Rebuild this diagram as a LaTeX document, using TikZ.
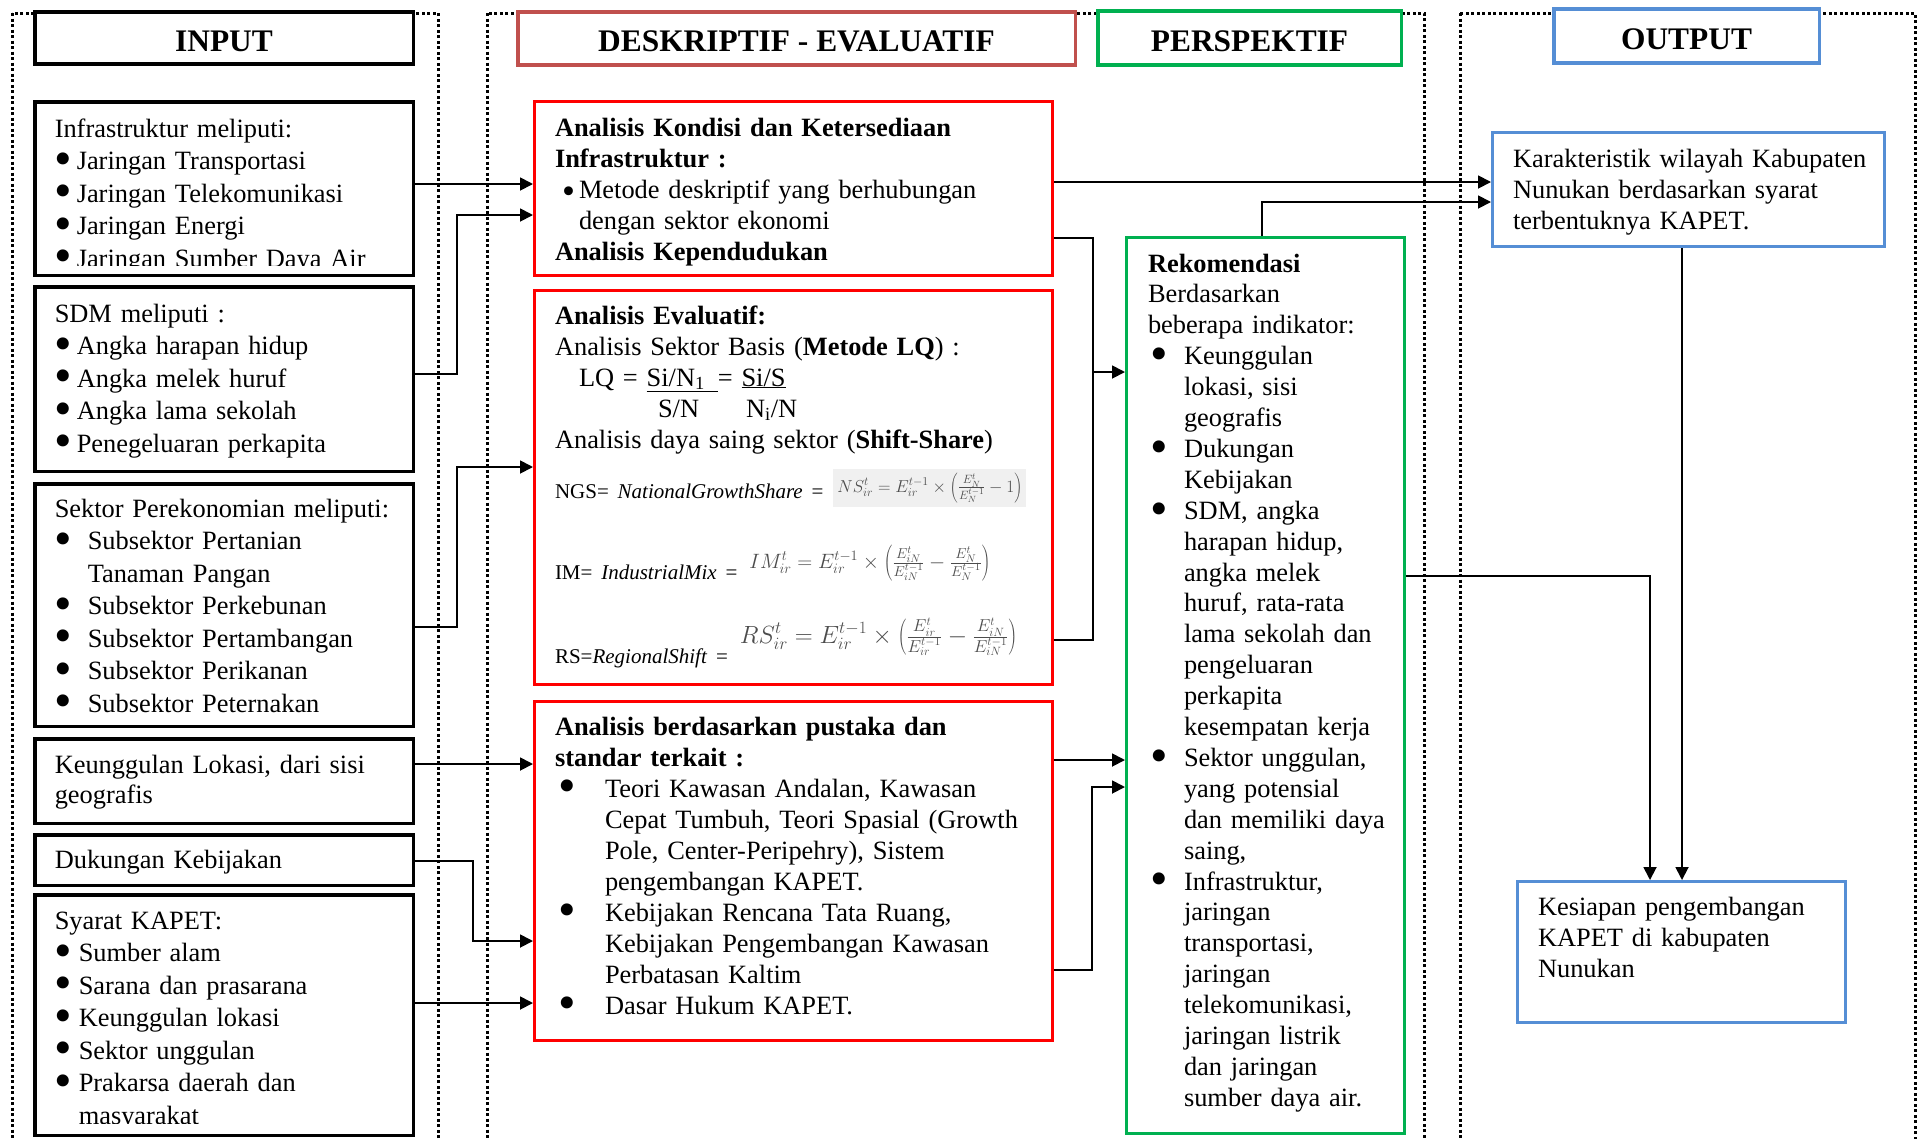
\documentclass[tikz,border=0pt]{standalone}
\usepackage{fontspec}
\usepackage{graphicx}
\setmainfont{Liberation Serif}
\usetikzlibrary{arrows.meta,positioning}
\definecolor{boxred}{RGB}{255,0,0}
\definecolor{headred}{RGB}{192,80,77}
\definecolor{boxgreen}{RGB}{0,176,80}
\definecolor{boxblue}{RGB}{85,142,213}
\newcommand{\bulscale}{1.9}
\newcommand{\bul}[3][0pt]{\par\hangindent=#2\relax\hangafter=1\relax\noindent\makebox[#2][l]{\hspace*{#1}\raisebox{-0.22em}{\scalebox{\bulscale}{\textbullet}}}#3}
\tikzset{
  colframe/.style={line width=3pt, dash pattern=on 3pt off 2.5pt},
  head/.style={draw, fill=white, line width=3.5pt, anchor=north west, inner sep=0pt, font=\fontsize{31.4}{36}\selectfont\bfseries, text height=40pt, text depth=13pt},
  box/.style={draw, anchor=north west, inner sep=0pt, align=left},
  inbox/.style={box, line width=3.5pt, text width=378.5pt, font=\fontsize{26.4}{32.5}\selectfont, execute at begin node={\leftskip=20pt}},
  redbox/.style={box, draw=boxred, line width=3pt, text width=518pt, font=\fontsize{26.4}{31}\selectfont, execute at begin node={\leftskip=20.5pt}},
  greenbox/.style={box, draw=boxgreen, line width=3pt, font=\fontsize{26.4}{30.9}\selectfont, execute at begin node={\leftskip=21.5pt}},
  bluebox/.style={box, draw=boxblue, line width=3pt, font=\fontsize{26.4}{31}\selectfont, execute at begin node={\leftskip=20.5pt}},
  conn/.style={line width=1.8pt},
  flow/.style={conn, -{Triangle[length=13pt,width=13pt]}}
}
\begin{document}
\begin{tikzpicture}[x=1pt,y=-1pt]
\useasboundingbox (0,0) rectangle (1919,1138);
\draw[colframe] (12,13) rectangle (438,1160);
\draw[colframe] (487,13) rectangle (1424,1160);
\draw[colframe] (1460,13) rectangle (1915,1160);

\node[head, minimum width=378.5pt, text depth=12pt] (H1) at (33,10) {INPUT};
\node[head, draw=headred, minimum width=557.5pt] (H2) at (516,10) {DESKRIPTIF - EVALUATIF};
\node[head, draw=boxgreen, minimum width=303.5pt, text height=41pt] (H3) at (1096,9) {PERSPEKTIF};
\node[head, draw=boxblue, minimum width=265.5pt, text height=41pt] (H4) at (1552,7) {OUTPUT};

\begin{scope}
\clip (20,90) rectangle (430,265);
\node[inbox, text height=35.25pt, text depth=138.25pt] (I1) at (33,100) {Infrastruktur meliputi:\bul{22pt}{Jaringan Transportasi}\bul{22pt}{Jaringan Telekomunikasi}\bul{22pt}{Jaringan Energi}\bul{22pt}{Jaringan Sumber Daya Air}\par};
\end{scope}
\draw[line width=3.5pt] ([shift={(1.75pt,-1.75pt)}]I1.north west) rectangle ([shift={(-1.75pt,1.75pt)}]I1.south east);
\node[inbox, below=8pt of I1.south west, anchor=north west, text height=35.25pt, text depth=149.25pt] (I2) {SDM meliputi :\bul{22pt}{Angka harapan hidup}\bul{22pt}{Angka melek huruf}\bul{22pt}{Angka lama sekolah}\bul{22pt}{Penegeluaran perkapita}\par};
\node[inbox, below=9pt of I2.south west, anchor=north west, text height=33.25pt, text depth=209.25pt] (I3) {Sektor Perekonomian meliputi:\bul{33pt}{Subsektor Pertanian\newline Tanaman Pangan}\bul{33pt}{Subsektor Perkebunan}\bul{33pt}{Subsektor Pertambangan}\bul{33pt}{Subsektor Perikanan}\bul{33pt}{Subsektor Peternakan}\par};
\node[inbox, font=\fontsize{26.4}{30}\selectfont, below=9pt of I3.south west, anchor=north west, text height=34.25pt, text depth=50.25pt] (I4) {Keunggulan Lokasi, dari sisi\\geografis};
\node[inbox, below=8pt of I4.south west, anchor=north west, text height=33.25pt, text depth=17.25pt] (I5) {Dukungan Kebijakan};
\begin{scope}
\clip (20,880) rectangle (430,1123);
\node[inbox, below=6pt of I5.south west, anchor=north west, text height=34.25pt, text depth=206.25pt] (I6) {Syarat KAPET:\bul{24pt}{Sumber alam}\bul{24pt}{Sarana dan prasarana}\bul{24pt}{Keunggulan lokasi}\bul{24pt}{Sektor unggulan}\bul{24pt}{Prakarsa daerah dan\newline masyarakat}\par};
\end{scope}
\draw[line width=3.5pt] ([shift={(1.75pt,-1.75pt)}]I6.north west) rectangle ([shift={(-1.75pt,1.75pt)}]I6.south east);

\node[redbox, text height=34.5pt, text depth=139.5pt] (A1) at (533,100) {\renewcommand{\bulscale}{1.4}\textbf{Analisis Kondisi dan Ketersediaan}\\\textbf{Infrastruktur :}\bul[7pt]{24pt}{Metode deskriptif yang berhubungan\newline dengan sektor ekonomi}\par\textbf{Analisis Kependudukan}};
\node[redbox, below=12pt of A1.south west, anchor=north west, text height=33.5pt, text depth=360.5pt] (A2) {\textbf{Analisis Evaluatif:}\\
Analisis Sektor Basis (\textbf{Metode LQ}) :\\
\hspace*{24pt}LQ = \underline{Si/N\textsubscript{1}\hspace{13pt}}= \underline{Si/S}\\
\hspace*{103pt}S/N\hspace{47pt}N\textsubscript{i}/N\\
Analisis daya saing sektor (\textbf{Shift-Share})\\[19pt]
{\fontsize{21}{31}\selectfont NGS= \textit{NationalGrowthShare} =}\hspace{10pt}\raisebox{6pt}[0pt][0pt]{\setlength{\fboxsep}{4pt}\colorbox{black!6}{\fontsize{18}{20}\selectfont\color{black!70}$NS^t_{ir}=E^{t-1}_{ir}\times\left(\frac{E^t_N}{E^{t-1}_N}-1\right)$}}\\[50pt]
{\fontsize{21}{31}\selectfont IM= \textit{IndustrialMix} =}\hspace{12pt}\raisebox{11pt}[0pt][0pt]{\fontsize{21}{24}\selectfont\color{black!70}$IM^t_{ir}=E^{t-1}_{ir}\times\left(\frac{E^t_{iN}}{E^{t-1}_{iN}}-\frac{E^t_N}{E^{t-1}_N}\right)$}\\[53pt]
{\fontsize{21}{31}\selectfont RS=\textit{RegionalShift} =}\hspace{12pt}\raisebox{20pt}[0pt][0pt]{\fontsize{24}{26}\selectfont\color{black!70}$RS^t_{ir}=E^{t-1}_{ir}\times\left(\frac{E^t_{ir}}{E^{t-1}_{ir}}-\frac{E^t_{iN}}{E^{t-1}_{iN}}\right)$}};
\node[redbox, below=14pt of A2.south west, anchor=north west, text height=33.5pt, text depth=305.5pt] (A3) {\textbf{Analisis berdasarkan pustaka dan}\\\textbf{standar terkait :}\bul[3.5pt]{50pt}{Teori Kawasan Andalan, Kawasan\newline Cepat Tumbuh, Teori Spasial (Growth\newline Pole, Center-Peripehry), Sistem\newline pengembangan KAPET.}\bul[3.5pt]{50pt}{Kebijakan Rencana Tata Ruang,\newline Kebijakan Pengembangan Kawasan\newline Perbatasan Kaltim}\bul[3.5pt]{50pt}{Dasar Hukum KAPET.}\par};

\node[greenbox, text width=278pt, text height=34.5pt, text depth=861.5pt] (R) at (1125,236) {\textbf{Rekomendasi}\\Berdasarkan\\beberapa indikator:\bul[2.5pt]{36pt}{Keunggulan\newline lokasi, sisi\newline geografis}\bul[2.5pt]{36pt}{Dukungan\newline Kebijakan}\bul[2.5pt]{36pt}{SDM, angka\newline harapan hidup,\newline angka melek\newline huruf, rata-rata\newline lama sekolah dan\newline pengeluaran\newline perkapita\newline kesempatan kerja}\bul[2.5pt]{36pt}{Sektor unggulan,\newline yang potensial\newline dan memiliki daya\newline saing,}\bul[2.5pt]{36pt}{Infrastruktur,\newline jaringan\newline transportasi,\newline jaringan\newline telekomunikasi,\newline jaringan listrik\newline dan jaringan\newline sumber daya air.}\par};

\node[bluebox, text width=392pt, text height=34.5pt, text depth=79.5pt] (O1) at (1491,131) {Karakteristik wilayah Kabupaten\\Nunukan berdasarkan syarat\\terbentuknya KAPET.};
\node[bluebox, text width=328pt, text height=33.5pt, text depth=107.5pt] (O2) at (1516,880) {Kesiapan pengembangan\\KAPET di kabupaten\\Nunukan};

\draw[flow] (I1.east |- 0,184) -- (A1.west |- 0,184);
\draw[flow] (I2.east |- 0,374) -| (457,215) -- (A1.west |- 0,215);
\draw[flow] (I3.east |- 0,627) -| (457,467) -- (A2.west |- 0,467);
\draw[flow] (I4.east |- 0,764) -- (A3.west |- 0,764);
\draw[flow] (I5.east |- 0,861) -| (473,941) -- (A3.west |- 0,941);
\draw[flow] (I6.east |- 0,1003) -- (A3.west |- 0,1003);
\draw[flow] (A1.east |- 0,182) -- (O1.west |- 0,182);
\draw[flow] (A1.east |- 0,238) -| (1093,372) -- (R.west |- 0,372);
\draw[conn] (A2.east |- 0,640) -| (1093,372);
\draw[flow] (A3.east |- 0,760) -- (R.west |- 0,760);
\draw[flow] (A3.east |- 0,970) -| (1092,787) -- (R.west |- 0,787);
\draw[flow] (R.north -| 1262,0) |- (O1.west |- 0,202);
\draw[flow] (R.east |- 0,576) -| (O2.north -| 1650,0);
\draw[flow] (O1.south -| 1682,0) -- (O2.north -| 1682,0);
\end{tikzpicture}
\end{document}
